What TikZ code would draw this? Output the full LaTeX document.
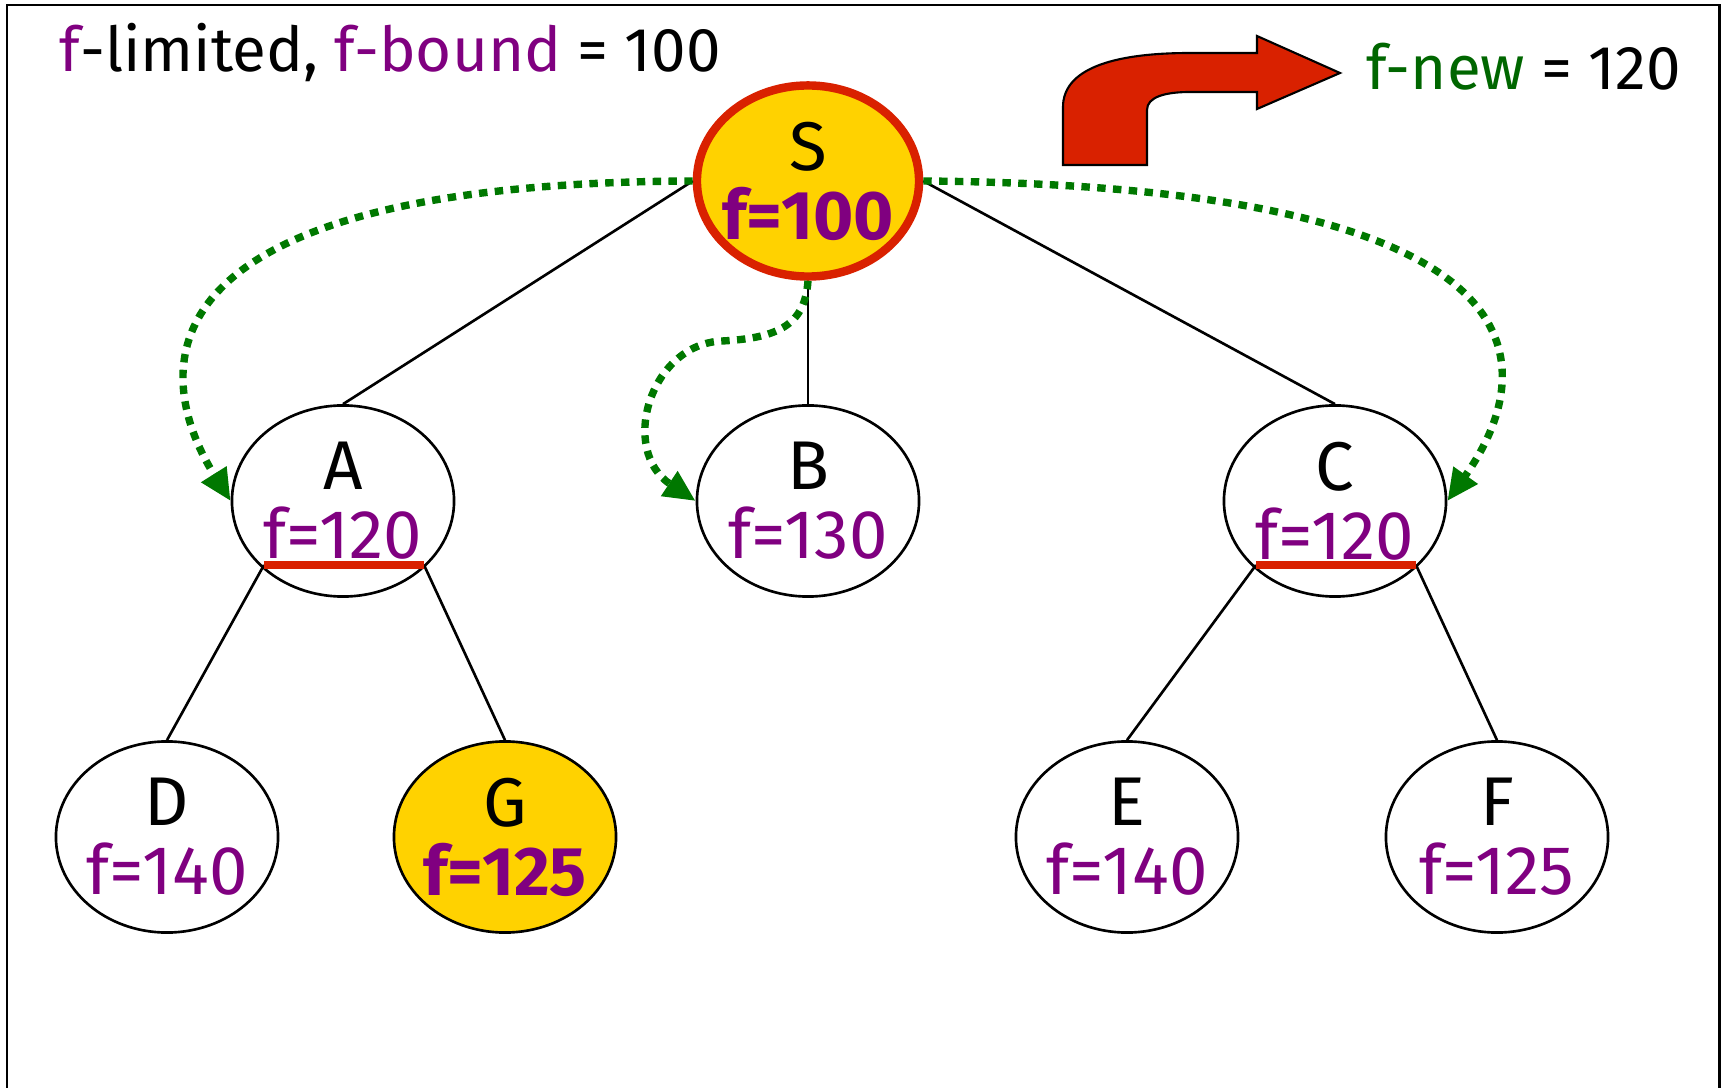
\documentclass[tikz,border=0pt]{standalone}
\usepackage{fontspec}
\setmainfont{Fira Sans}
\usepackage{xcolor}
\usetikzlibrary{arrows.meta,shapes.geometric,calc}

\definecolor{fpurple}{RGB}{128,0,128}
\definecolor{searchgreen}{RGB}{0,120,0}
\definecolor{newgreen}{RGB}{0,102,0}
\definecolor{nodeyellow}{RGB}{255,210,0}
\definecolor{cutred}{RGB}{217,33,0}

\newcommand{\fval}[1]{\textcolor{fpurple}{f=#1}}

\begin{document}
\begin{tikzpicture}[
    x=0.01cm, y=-0.01cm,
    state/.style={ellipse, draw, line width=0.75pt, minimum width=2.22cm, minimum height=1.91cm,
        inner xsep=-14pt, inner ysep=0pt, align=center, font=\fontsize{19.6}{19.6}\selectfont},
    goal/.style={state, fill=nodeyellow},
    start/.style={goal, draw=cutred, line width=2.4pt},
    edge/.style={draw=black, line width=0.75pt},
    cut/.style={draw=cutred, line width=2.1pt},
    search/.style={draw=searchgreen, line width=2.1pt, dash pattern=on 2.4pt off 2.1pt,
        -{Triangle[length=9pt,width=8pt]}},
    bent/.style={fill=cutred, draw=black, line width=0.6pt},
    lab/.style={font=\fontsize{17.6}{19}\selectfont}
]
\useasboundingbox (0,0) rectangle (1723,1088);
\draw[line width=0.85pt] (7,1088) |- (1719,5) -- (1719,1088);

\node[start] (S) at (808,181) {S\\\textbf{\fval{100}}};
\node[state] (A) at (343,501) {A\\\fval{120}};
\node[state] (B) at (808,501) {B\\\fval{130}};
\node[state] (C) at (1335,501) {C\\\fval{120}};
\node[state] (D) at (167,837) {D\\\fval{140}};
\node[goal] (G) at (505,837) {G\\\textbf{\fval{125}}};
\node[state] (E) at (1127,837) {E\\\fval{140}};
\node[state] (F) at (1497,837) {F\\\fval{125}};

\coordinate (Acl) at ($(A)+(-79,64)$);
\coordinate (Acr) at ($(A)+(81,64)$);
\coordinate (Ccl) at ($(C)+(-79,64)$);
\coordinate (Ccr) at ($(C)+(81,64)$);
\coordinate (sbend) at (722,341);

\draw[edge] (S.west) -- (A.north);
\draw[edge] (S.south) -- (B.north);
\draw[edge] (S.east) -- (C.north);
\draw[edge] (Acl) -- (D.north);
\draw[edge] (Acr) -- (G.north);
\draw[edge] (Ccl) -- (E.north);
\draw[edge] (Ccr) -- (F.north);
\draw[cut] (Acl) -- (Acr);
\draw[cut] (Ccl) -- (Ccr);

\draw[search] (S.west) .. controls +(-573,2) and +(-76,-121) .. (A.west);
\draw[search] (S.south) .. controls +(-3,43) and +(58,-3) .. (sbend)
    .. controls +(-72,3) and +(-77,-51) .. (B.west);
\draw[search] (S.east) .. controls +(639,5) and +(93,-131) .. (C.east);

\draw[bent] (1063,165) -- (1063,107) .. controls (1063,70) and (1110,53) .. (1190,53)
    -- (1257,53) -- (1257,36) -- (1340,73) -- (1257,109) -- (1257,92) -- (1190,92)
    .. controls (1165,92) and (1147,97) .. (1147,110) -- (1147,165) -- cycle;

\node[lab, anchor=base west] (bound) at (47,72)
    {\textcolor{fpurple}{f}-limited, \textcolor{fpurple}{f-bound} = 100};
\node[lab, anchor=base west] (fnew) at (1354,90) {\textcolor{newgreen}{f-new} = 120};
\end{tikzpicture}
\end{document}
